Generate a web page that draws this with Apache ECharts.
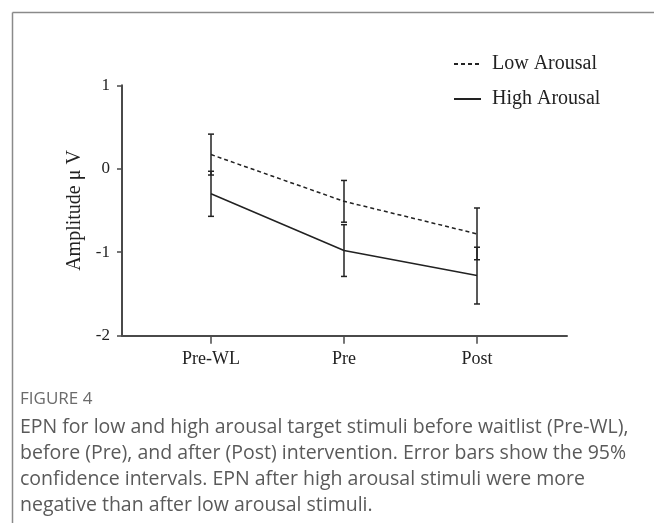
<!DOCTYPE html>
<html><head><meta charset="utf-8">
<script src="https://cdn.jsdelivr.net/npm/echarts@6/dist/echarts.min.js"></script>
<style>html,body{margin:0;padding:0;background:#fff;}#c{width:654px;height:523px;}</style>
</head><body><div id="c"></div>
<script>
var categories = ['Pre-WL', 'Pre', 'Post'];
var lowArousal = [0.17, -0.39, -0.78];
var lowCI = [0.245, 0.25, 0.31];
var highArousal = [-0.30, -0.98, -1.28];
var highCI = [0.27, 0.31, 0.34];
var yTicks = { min: -2, max: 1, interval: 1 };
var seriesNames = ['Low Arousal', 'High Arousal'];
var captionTitle = 'FIGURE 4';
var captionLines = [
  'EPN for low and high arousal target stimuli before waitlist (Pre-WL),',
  'before (Pre), and after (Post) intervention. Error bars show the 95%',
  'confidence intervals. EPN after high arousal stimuli were more',
  'negative than after low arousal stimuli.'
];

var ink = '#222';
var axisCol = '#4a4a4a';
var serif = '"Liberation Serif", "Times New Roman", serif';

function errData(means, ci) {
  return means.map(function (m, i) { return [i, m - ci[i], m + ci[i]]; });
}
function renderErr(params, api) {
  var x = api.value(0);
  var lo = api.coord([x, api.value(1)]);
  var hi = api.coord([x, api.value(2)]);
  var w = 3;
  var st = { stroke: ink, lineWidth: 1.5 };
  return {
    type: 'group',
    children: [
      { type: 'line', shape: { x1: lo[0], y1: lo[1], x2: hi[0], y2: hi[1] }, style: st },
      { type: 'line', shape: { x1: lo[0] - w, y1: lo[1], x2: lo[0] + w, y2: lo[1] }, style: st },
      { type: 'line', shape: { x1: hi[0] - w, y1: hi[1], x2: hi[0] + w, y2: hi[1] }, style: st }
    ]
  };
}

var gTop = 85.3, gH = 250.4;
var chart = echarts.init(document.getElementById('c'), null, { renderer: 'canvas' });
var graphics = [
  { type: 'line', shape: { x1: 12.5, y1: 12.5, x2: 660, y2: 12.5 }, style: { stroke: '#8a8a8a', lineWidth: 1.5 } },
  { type: 'line', shape: { x1: 12.5, y1: 12.5, x2: 12.5, y2: 530 }, style: { stroke: '#8a8a8a', lineWidth: 1.5 } },
  { type: 'text', left: 20, top: 391, style: { text: captionTitle, fill: '#6b6b6b', font: '17px "Open Sans", sans-serif' } }
];
captionLines.forEach(function (t, i) {
  graphics.push({ type: 'text', left: 20, top: 417 + i * 26, style: { text: t, fill: '#5a5a5a', font: '19.5px "Open Sans", sans-serif' } });
});

chart.setOption({
  animation: false,
  backgroundColor: '#fff',
  graphic: graphics,
  legend: {
    orient: 'vertical', left: 448, top: 49, itemWidth: 27, itemHeight: 14, itemGap: 15,
    data: seriesNames,
    itemStyle: { color: 'rgba(0,0,0,0)', borderWidth: 0 },
    textStyle: { fontFamily: serif, fontSize: 20, color: ink, padding: [0, 0, 0, 6] }
  },
  grid: [
    { left: 122, top: gTop, width: 445, height: gH },
    { left: 144.5, top: gTop, width: 399, height: gH }
  ],
  xAxis: [
    { gridIndex: 0, type: 'value', min: 0, max: 1,
      axisLine: { show: true, onZero: false, lineStyle: { color: axisCol, width: 2 } },
      axisTick: { show: false }, axisLabel: { show: false }, splitLine: { show: false } },
    { gridIndex: 1, type: 'category', data: categories, boundaryGap: true,
      axisLine: { show: false, onZero: false },
      axisTick: { show: true, alignWithLabel: true, length: 8, lineStyle: { color: axisCol, width: 1.5 } },
      axisLabel: { margin: 15, fontFamily: serif, fontSize: 18, color: ink }, splitLine: { show: false } }
  ],
  yAxis: [
    { gridIndex: 0, type: 'value', min: yTicks.min, max: yTicks.max, interval: yTicks.interval,
      name: 'Amplitude μ V', nameLocation: 'middle', nameGap: 33,
      nameTextStyle: { fontFamily: serif, fontSize: 20, color: ink },
      axisLine: { show: true, onZero: false, lineStyle: { color: axisCol, width: 2 } },
      axisTick: { show: true, length: 5, lineStyle: { color: axisCol, width: 1.5 } },
      axisLabel: { margin: 12, fontFamily: serif, fontSize: 17, color: ink }, splitLine: { show: false } },
    { gridIndex: 1, type: 'value', min: yTicks.min, max: yTicks.max, show: false, splitLine: { show: false } }
  ],
  series: [
    { name: seriesNames[0], type: 'line', xAxisIndex: 1, yAxisIndex: 1, data: lowArousal, symbol: 'none',
      lineStyle: { color: ink, width: 1.5, type: [4, 3] }, itemStyle: { color: ink }, z: 3 },
    { name: seriesNames[1], type: 'line', xAxisIndex: 1, yAxisIndex: 1, data: highArousal, symbol: 'none',
      lineStyle: { color: ink, width: 1.5 }, itemStyle: { color: ink }, z: 3 },
    { type: 'custom', xAxisIndex: 1, yAxisIndex: 1, data: errData(lowArousal, lowCI), renderItem: renderErr, z: 4 },
    { type: 'custom', xAxisIndex: 1, yAxisIndex: 1, data: errData(highArousal, highCI), renderItem: renderErr, z: 4 }
  ]
});
</script>
</body></html>
